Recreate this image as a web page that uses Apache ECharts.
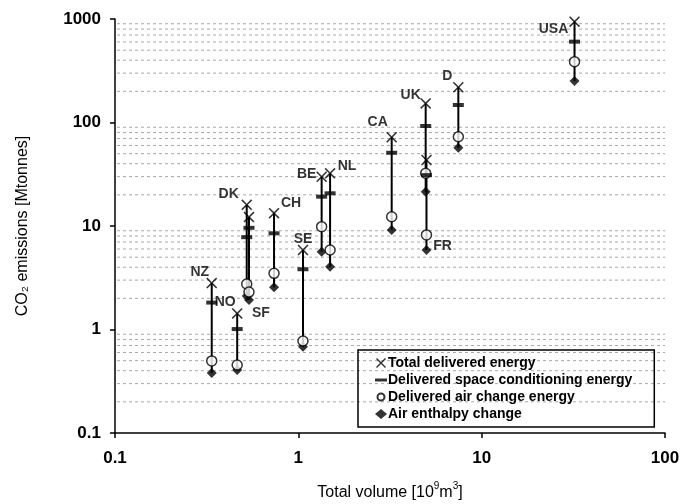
<!DOCTYPE html>
<html>
<head>
<meta charset="utf-8">
<script src="https://cdn.jsdelivr.net/npm/echarts@6/dist/echarts.min.js"></script>
<style>html,body{margin:0;padding:0;background:#fff}#c{width:682px;height:504px}</style>
</head>
<body>
<div id="c"></div>
<script>
// ---- data ----
const countries = ['NZ','NO','DK','SF','CH','SE','BE','NL','CA','UK','FR','D','USA'];
const volume    = [0.337, 0.464, 0.523, 0.538, 0.737, 1.06, 1.34, 1.49, 3.23, 4.95, 5.0, 7.46, 32.1];
const totalDelivered = [2.81, 1.43, 16.0, 12.2, 13.3, 5.86, 29.9, 32.3, 72, 153, 43.4, 219, 942];
const spaceConditioning = [1.82, 1.01, 7.8, 9.6, 8.5, 3.82, 19.2, 20.7, 51, 92.5, 31, 147.6, 604];
const airChange = [0.497, 0.454, 2.75, 2.3, 3.49, 0.774, 9.85, 5.86, 12.3, 32.3, 8.2, 72.9, 387];
const enthalpy  = [0.38, 0.406, 2.11, 1.93, 2.56, 0.68, 5.65, 4.04, 9.15, 21.4, 5.87, 57.1, 252];
const xTicks = [0.1, 1, 10, 100];
const yTicks = [0.1, 1, 10, 100, 1000];
const gridLevels = [0.2,0.3,0.4,0.5,0.6,0.7,0.8,0.9, 2,3,4,5,6,7,8,9, 20,30,40,50,60,70,80,90, 200,300,400,500,600,700,800,900];
const seriesNames = ['Total delivered energy','Delivered space conditioning energy','Delivered air change energy','Air enthalpy change'];

// ---- label placement (style, not data) ----
const labelOnTotal = {NZ:[-12,-11], NO:[-12,-11], DK:[-18,-11], CH:[17,-10], SE:[0,-11], BE:[-15,-3], NL:[17,-7], CA:[-14,-15], UK:[-15,-8], D:[-11,-11], USA:[-21,7]};
const labelOnEnthalpy = {SF:[12,13], FR:[16,-4]};

const font = 'Liberation Sans, Arial, Helvetica, sans-serif';
const crossPath = 'path://M1,0 L5,4 L9,0 L10,1 L6,5 L10,9 L9,10 L5,6 L1,10 L0,9 L4,5 L0,1 Z';
const dashIcon = 'path://M0,0 M0,3.5 H12 V6.5 H0 Z M12,10';
const circleIcon = 'path://M0,0 M6,1.5 A3.5,3.5 0 1 1 5.99,1.5 Z M12,10';

function pts(vals, labelMap) {
  return countries.map((c, i) => {
    const d = {name: c, value: [volume[i], vals[i]]};
    if (labelMap && labelMap[c]) {
      d.label = {show: true, formatter: c, position: 'inside', offset: labelMap[c],
        color: '#000', textBorderWidth: 0, fontSize: 14, fontWeight: 'bold', fontFamily: font};
    }
    return d;
  });
}

const chart = echarts.init(document.getElementById('c'));
chart.setOption({
  animation: false,
  backgroundColor: '#fff',
  grid: {left: 115, right: 17, top: 19, bottom: 71, containLabel: false, outerBoundsMode: 'none'},
  xAxis: {
    type: 'log', logBase: 10, min: 0.1, max: 100,
    name: '{n|Total volume [10}{s|9}{n|m}{s|3}{n|]}', nameLocation: 'middle', nameGap: 48,
    nameTextStyle: {color: '#000', fontSize: 16, fontFamily: font,
      rich: {n: {fontSize: 16, fontFamily: font, color: '#000', verticalAlign: 'bottom', lineHeight: 20},
             s: {fontSize: 10, fontFamily: font, color: '#000', verticalAlign: 'top', lineHeight: 20, padding: [0,0,6,0]}}},
    axisLine: {show: true, lineStyle: {color: '#000', width: 1.5}},
    axisTick: {show: true, length: 5, lineStyle: {color: '#000', width: 1.5}},
    axisLabel: {color: '#000', fontSize: 17, fontWeight: 'bold', fontFamily: font, margin: 17,
      formatter: v => { const t = xTicks.find(k => Math.abs(k - v) / k < 1e-6); return t === undefined ? '' : String(t); }},
    splitLine: {show: false}
  },
  yAxis: {
    type: 'log', logBase: 10, min: 0.1, max: 1000,
    name: 'CO₂ emissions [Mtonnes]', nameLocation: 'middle', nameGap: 84, nameRotate: 90,
    nameTextStyle: {color: '#000', fontSize: 16, fontFamily: font},
    axisLine: {show: true, lineStyle: {color: '#000', width: 1.5}},
    axisTick: {show: true, length: 5, lineStyle: {color: '#000', width: 1.5}},
    axisLabel: {color: '#000', fontSize: 17, fontWeight: 'bold', fontFamily: font, margin: 14,
      formatter: v => { const t = yTicks.find(k => Math.abs(k - v) / k < 1e-6); return t === undefined ? '' : String(t); }},
    splitLine: {show: false}
  },
  legend: {
    orient: 'vertical', left: 358, top: 350,
    borderColor: '#000', borderWidth: 1.5, padding: [6, 22, 6, 16],
    itemGap: 3, itemWidth: 12, itemHeight: 10,
    textStyle: {color: '#000', fontSize: 14, fontWeight: 'bold', fontFamily: font, padding: [0, 0, 0, -4]},
    data: [
      {name: seriesNames[0], icon: crossPath},
      {name: seriesNames[1], icon: dashIcon},
      {name: seriesNames[2], icon: circleIcon},
      {name: seriesNames[3], icon: 'diamond'}
    ]
  },
  series: [
    {
      type: 'custom', name: 'grid', silent: true, z: 1,
      data: gridLevels.map(v => [1, v]),
      renderItem: (params, api) => {
        const y = api.coord([1, api.value(1)])[1];
        const cs = params.coordSys;
        return {type: 'line', shape: {x1: cs.x + 2, y1: y, x2: cs.x + cs.width, y2: y},
          style: {stroke: '#a8a8a8', lineWidth: 1, lineDash: [3, 3]}};
      }
    },
    {
      type: 'custom', name: 'stems', silent: true, z: 2,
      data: countries.map((c, i) => [volume[i], Math.max(totalDelivered[i], spaceConditioning[i], airChange[i], enthalpy[i]), Math.min(totalDelivered[i], spaceConditioning[i], airChange[i], enthalpy[i])]),
      renderItem: (params, api) => {
        const p1 = api.coord([api.value(0), api.value(1)]);
        const p2 = api.coord([api.value(0), api.value(2)]);
        return {type: 'line', shape: {x1: p1[0], y1: p1[1], x2: p2[0], y2: p2[1]},
          style: {stroke: '#000', lineWidth: 2}};
      }
    },
    {
      type: 'scatter', name: seriesNames[3], z: 3, symbol: 'diamond', symbolSize: 10,
      itemStyle: {color: '#000'}, data: pts(enthalpy, labelOnEnthalpy)
    },
    {
      type: 'scatter', name: seriesNames[2], z: 4, symbol: 'circle', symbolSize: 10,
      itemStyle: {color: '#fff', borderColor: '#000', borderWidth: 1.5}, data: pts(airChange)
    },
    {
      type: 'scatter', name: seriesNames[1], z: 5, symbol: 'rect', symbolSize: [11, 4],
      itemStyle: {color: '#000'}, data: pts(spaceConditioning)
    },
    {
      type: 'scatter', name: seriesNames[0], z: 6, symbol: crossPath, symbolSize: 11,
      itemStyle: {color: '#000'}, data: pts(totalDelivered, labelOnTotal)
    }
  ]
});
</script>
</body>
</html>
